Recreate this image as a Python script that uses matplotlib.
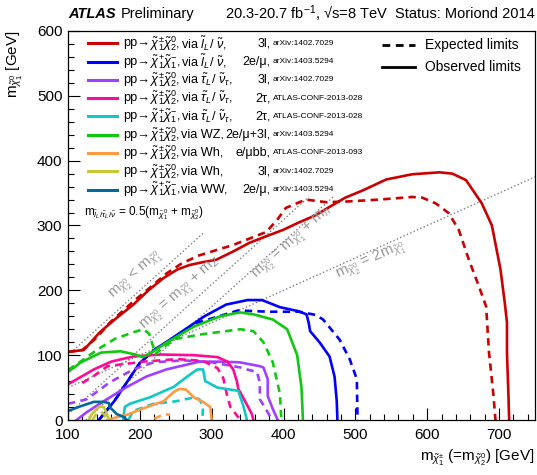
import numpy as np
import matplotlib
matplotlib.use("Agg")
import matplotlib.pyplot as plt

plt.rcParams['font.family'] = ['Liberation Sans', 'DejaVu Sans']
plt.rcParams['mathtext.fontset'] = 'custom'
plt.rcParams['mathtext.rm'] = 'Liberation Sans'
plt.rcParams['mathtext.it'] = 'Liberation Sans:italic'

# --- exclusion contours (observed / expected) ---
red_obs_x = [100, 122, 144, 165, 191, 212, 233, 252, 269, 290, 306, 330, 352, 375, 399, 422, 445, 466, 486,
             510, 543, 579, 617, 635, 654, 676, 690, 702, 708, 711, 711, 713, 714]
red_obs_y = [105, 108, 135, 155, 178, 200, 219, 232, 239, 244, 247, 260, 273, 283, 293, 305, 316, 330, 343,
             354, 371, 379, 382, 380, 370, 334, 300, 232, 180, 150, 104, 40, 0]
red_exp_x = [100, 120, 140, 158, 191, 215, 237, 259, 283, 330, 376, 392, 403, 431, 459, 488, 533, 579, 593,
             612, 630, 644, 658, 672, 682, 686, 692, 695]
red_exp_y = [105, 108, 127, 150, 183, 205, 226, 242, 254, 270, 290, 310, 327, 340, 336, 337, 340, 344, 343,
             334, 319, 293, 247, 206, 175, 104, 40, 0]

blue_obs_x = [143, 165, 180, 200, 220, 250, 290, 320, 350, 370, 395, 420, 432, 435, 437, 450, 464, 471, 474, 475]
blue_obs_y = [0, 30, 55, 88, 108, 130, 160, 178, 185, 185, 174, 168, 163, 150, 137, 120, 98, 67, 30, 0]
blue_exp_x = [143, 165, 180, 200, 220, 250, 277, 337, 380, 422, 445, 455, 478, 492, 502, 503]
blue_exp_y = [0, 30, 55, 88, 108, 128, 149, 169, 167, 167, 162, 155, 124, 94, 63, 0]

green_obs_x = [100, 118, 146, 173, 194, 204, 219, 238, 275, 312, 339, 358, 385, 405, 419, 425, 427]
green_obs_y = [74, 89, 104, 106, 101, 97, 106, 120, 144, 160, 166, 163, 155, 140, 100, 50, 0]
green_exp_x = [100, 120, 140, 165, 190, 205, 213, 218, 222, 232, 250, 285, 340, 358, 372, 385, 395, 397]
green_exp_y = [77, 92, 108, 125, 135, 140, 133, 115, 102, 112, 125, 132, 140, 137, 120, 89, 40, 0]

pink_obs_x = [100, 136, 160, 191, 229, 275, 308, 322, 330, 335, 337, 347, 356, 358]
pink_obs_y = [55, 78, 90, 98, 101, 100, 97, 90, 78, 60, 48, 28, 9, 0]
pink_exp_x = [120, 136, 155, 205, 252, 288, 308, 316, 321, 326, 333, 340]
pink_exp_y = [57, 68, 83, 90, 94, 91, 80, 65, 40, 20, 10, 0]

purple_obs_x = [112, 126, 154, 182, 209, 237, 283, 312, 339, 367, 372, 378, 378, 385, 392]
purple_obs_y = [0, 12, 32, 51, 67, 78, 90, 90, 89, 83, 81, 63, 37, 17, 0]
purple_exp_x = [100, 126, 158, 191, 219, 261, 300, 340, 349, 363, 367, 367, 378, 384]
purple_exp_y = [25, 32, 58, 78, 89, 92, 89, 81, 78, 74, 58, 32, 12, 0]

cyan_obs_x = [177, 179, 186, 214, 247, 266, 280, 288, 291, 308, 337, 344, 349]
cyan_obs_y = [0, 20, 25, 35, 51, 67, 78, 78, 60, 50, 45, 22, 0]
cyan_exp_x = [184, 191, 219, 251, 276, 283, 288, 287]
cyan_exp_y = [0, 14, 25, 29, 35, 32, 20, 0]

orange_obs_x = [155, 170, 182, 205, 233, 247, 255, 264, 275, 288, 298, 300]
orange_obs_y = [0, 5, 8, 18, 29, 43, 48, 47, 35, 28, 20, 0]
orange_exp_x = [220, 228, 236, 242]
orange_exp_y = [2, 6, 9, 8]

olive_obs_x = [129, 133, 140, 144, 150, 154, 157]
olive_obs_y = [0, 9, 17, 21, 20, 9, 0]
olive_exp_x = [134, 140, 146, 151, 153]
olive_exp_y = [0, 10, 13, 8, 0]

teal_obs_x = [100, 117, 136, 150, 157, 158, 168, 177, 182]
teal_obs_y = [14, 21, 28, 28, 26, 20, 9, 5, 0]

# kinematic reference lines: x ranges
kin_x = [100, 290]          # m2 = m1
mz_x = [100, 435]           # m2 = m1 + mZ
mh_x = [125, 470]           # m2 = m1 + mh
two_x = [100, 750]          # m2 = 2 m1
m_z = 91
m_h = 125

legend_pair = [
    r"$\tilde{\chi}^{\pm}_{1}\tilde{\chi}^{0}_{2}$,",
    r"$\tilde{\chi}^{+}_{1}\tilde{\chi}^{-}_{1}$,",
    r"$\tilde{\chi}^{\pm}_{1}\tilde{\chi}^{0}_{2}$,",
    r"$\tilde{\chi}^{\pm}_{1}\tilde{\chi}^{0}_{2}$,",
    r"$\tilde{\chi}^{+}_{1}\tilde{\chi}^{-}_{1}$,",
    r"$\tilde{\chi}^{\pm}_{1}\tilde{\chi}^{0}_{2}$,",
    r"$\tilde{\chi}^{\pm}_{1}\tilde{\chi}^{0}_{2}$,",
    r"$\tilde{\chi}^{\pm}_{1}\tilde{\chi}^{0}_{2}$,",
    r"$\tilde{\chi}^{+}_{1}\tilde{\chi}^{-}_{1}$,",
]
legend_via = [
    r"via $\tilde{l}_{L}$/ $\tilde{\nu}$,",
    r"via $\tilde{l}_{L}$/ $\tilde{\nu}$,",
    r"via $\tilde{\tau}_{L}$/ $\tilde{\nu}_{\tau}$,",
    r"via $\tilde{\tau}_{L}$/ $\tilde{\nu}_{\tau}$,",
    r"via $\tilde{\tau}_{L}$/ $\tilde{\nu}_{\tau}$,",
    "via WZ,",
    "via Wh,",
    "via Wh,",
    "via WW,",
]
legend_chan = ["3l,", "2e/\u03bc,", "3l,", "2\u03c4,", "2\u03c4,", "2e/\u03bc+3l,", "e/\u03bcbb,", "3l,", "2e/\u03bc,"]
legend_ref = ["arXiv:1402.7029", "arXiv:1403.5294", "arXiv:1402.7029", "ATLAS-CONF-2013-028",
              "ATLAS-CONF-2013-028", "arXiv:1403.5294", "ATLAS-CONF-2013-093", "arXiv:1402.7029",
              "arXiv:1403.5294"]
colors = ['#cc0000', '#0000ff', '#a040ff', '#ff0a94', '#10c8c8', '#10c810', '#ff9a40', '#c8c832', '#006a9a']

fig = plt.figure(figsize=(5.37, 4.75), dpi=100)
ax = fig.add_axes([68 / 537, 55 / 475, 467 / 537, 389 / 475])

lw = 1.9
dash = (0, (2.8, 2.0))
curves = [
    (red_obs_x, red_obs_y, red_exp_x, red_exp_y),
    (blue_obs_x, blue_obs_y, blue_exp_x, blue_exp_y),
    (purple_obs_x, purple_obs_y, purple_exp_x, purple_exp_y),
    (pink_obs_x, pink_obs_y, pink_exp_x, pink_exp_y),
    (cyan_obs_x, cyan_obs_y, cyan_exp_x, cyan_exp_y),
    (green_obs_x, green_obs_y, green_exp_x, green_exp_y),
    (orange_obs_x, orange_obs_y, orange_exp_x, orange_exp_y),
    (olive_obs_x, olive_obs_y, olive_exp_x, olive_exp_y),
    (teal_obs_x, teal_obs_y, None, None),
]

# reference lines first, so curves sit on top
kx = np.array(kin_x)
ax.plot(kx, kx, ls=':', color='#808080', lw=1)
zx = np.array(mz_x)
ax.plot(zx, zx - m_z, ls=':', color='#808080', lw=1)
hx = np.array(mh_x)
ax.plot(hx, hx - m_h, ls=':', color='#808080', lw=1)
tx = np.array(two_x)
ax.plot(tx, tx / 2, ls=':', color='#808080', lw=1)

for (ox, oy, ex, ey), c in zip(curves, colors):
    ax.plot(ox, oy, color=c, lw=lw, solid_joinstyle='round')
    if ex is not None:
        ax.plot(ex, ey, color=c, lw=lw, ls=dash)

ax.set_xlim(100, 750)
ax.set_ylim(0, 600)
ax.set_xticks(np.arange(100, 751, 100))
ax.set_xticks(np.arange(100, 751, 20), minor=True)
ax.set_yticks(np.arange(0, 601, 100))
ax.set_yticks(np.arange(0, 601, 20), minor=True)
ax.tick_params(which='both', direction='in', top=False, right=False, labelsize=11)
ax.tick_params(axis='x', pad=6)
ax.tick_params(axis='y', pad=4)
ax.tick_params(which='major', length=8.5, width=0.8)
ax.tick_params(which='minor', length=4.3, width=0.8)
for s in ax.spines.values():
    s.set_linewidth(0.9)

# kinematic line labels
ang1 = 42.1
ang2 = 24.3
gray = '#9a9a9a'
ax.text(195, 223, r"m$_{\tilde{\chi}^{0}_{2}}$ < m$_{\tilde{\chi}^{0}_{1}}$", rotation=ang1,
        rotation_mode='anchor', ha='center', va='center', fontsize=11, color=gray)
ax.text(258, 195, r"m$_{\tilde{\chi}^{0}_{2}}$ = m$_{\tilde{\chi}^{0}_{1}}$ + m$_{Z}$", rotation=ang1,
        rotation_mode='anchor', ha='center', va='center', fontsize=11, color=gray)
ax.text(414, 272, r"m$_{\tilde{\chi}^{0}_{2}}$ = m$_{\tilde{\chi}^{0}_{1}}$ + m$_{h}$", rotation=ang1,
        rotation_mode='anchor', ha='center', va='center', fontsize=11, color=gray)
ax.text(522, 246, r"m$_{\tilde{\chi}^{0}_{2}}$ = 2m$_{\tilde{\chi}^{0}_{1}}$", rotation=ang2,
        rotation_mode='anchor', ha='center', va='center', fontsize=11, color=gray)

ax.text(0.034, 0.531,
        r"m$_{\tilde{l}_{L}/\tilde{\tau}_{L}/\tilde{\nu}}$ = 0.5(m$_{\tilde{\chi}^{0}_{1}}$ + m$_{\tilde{\chi}^{0}_{2}}$)",
        transform=ax.transAxes, fontsize=8.5, va='center', ha='left')

# process legend
row0 = 0.9685
dy = 0.047
for i in range(len(legend_pair)):
    yy = row0 - i * dy
    ax.plot([0.043, 0.105], [yy, yy], color=colors[i], lw=2.2, transform=ax.transAxes, clip_on=False)
    ax.text(0.118, yy, "pp\u2192", transform=ax.transAxes, fontsize=9.2, va='center', ha='left')
    ax.text(0.1765, yy, legend_pair[i], transform=ax.transAxes, fontsize=9.2, va='center', ha='left')
    ax.text(0.241, yy, legend_via[i], transform=ax.transAxes, fontsize=9.2, va='center', ha='left')
    ax.text(0.433, yy, legend_chan[i], transform=ax.transAxes, fontsize=9, va='center', ha='right')
    ax.text(0.439, yy, legend_ref[i], transform=ax.transAxes, fontsize=6, va='center', ha='left')

# expected / observed legend
ax.plot([0.672, 0.743], [0.964, 0.964], color='k', lw=2, ls=dash, transform=ax.transAxes)
ax.plot([0.672, 0.743], [0.908, 0.908], color='k', lw=2, transform=ax.transAxes)
ax.text(0.764, 0.964, "Expected limits", transform=ax.transAxes, fontsize=10, va='center')
ax.text(0.764, 0.908, "Observed limits", transform=ax.transAxes, fontsize=10, va='center')

# axis titles
fig.text(535 / 537, 1 - 458 / 475, r"m$_{\tilde{\chi}^{\pm}_{1}}$ (=m$_{\tilde{\chi}^{0}_{2}}$) [GeV]",
         ha='right', va='center', fontsize=11)
fig.text(15 / 537, 1 - 30 / 475, r"m$_{\tilde{\chi}^{0}_{1}}$ [GeV]", rotation=90,
         ha='center', va='top', fontsize=11)

# header
fig.text(68 / 537, 1 - 14 / 475, "ATLAS", fontsize=10.5, fontweight='bold', style='italic', va='center')
fig.text(121 / 537, 1 - 14 / 475, "Preliminary", fontsize=10.5, va='center')
fig.text(225 / 537, 1 - 14 / 475, "20.3-20.7 fb$^{-1}$, \u221as=8 TeV", fontsize=10.5, va='center')
fig.text(535 / 537, 1 - 14 / 475, "Status: Moriond 2014", fontsize=10.5, va='center', ha='right')

fig.savefig("out.png", dpi=100)
